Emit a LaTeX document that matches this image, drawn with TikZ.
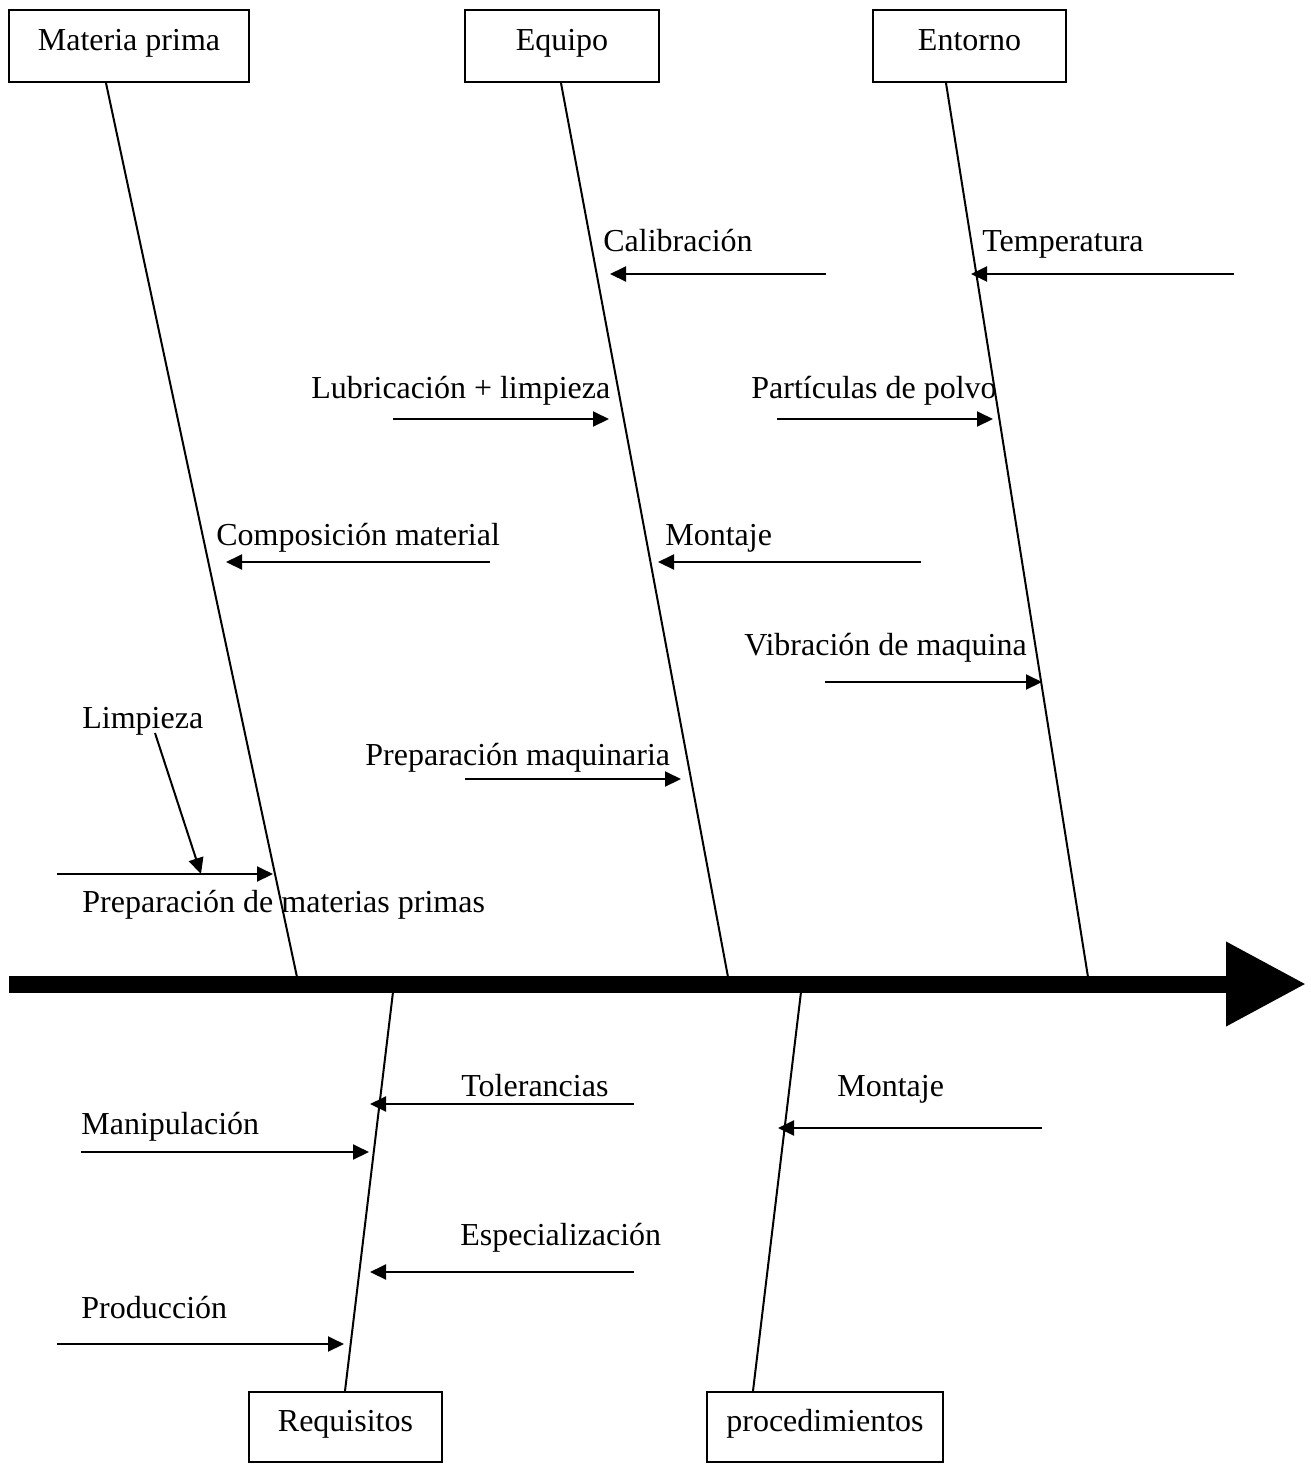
\documentclass[tikz,border=0pt]{standalone}
\usepackage{fontspec}
\setmainfont{Liberation Serif}
\usetikzlibrary{arrows.meta,positioning,calc}

\begin{document}
\begin{tikzpicture}[
  x=0.5pt, y=-0.5pt,
  font=\fontsize{16pt}{19pt}\selectfont,
  catbox/.style={draw,line width=1pt,inner sep=0pt,
                 text height=0.7em,text depth=0.25em},
  bone/.style={line width=1pt},
  cause/.style={line width=1pt,-{Triangle[length=8pt,width=7.5pt]}},
  lbl/.style={anchor=base west,inner sep=0pt}
]
\useasboundingbox (0,0) rectangle (1311,1464);

% category boxes
\node[catbox,minimum width=120pt,minimum height=36pt] (materia) at (129,46) {Materia prima};
\node[catbox,minimum width=97pt,minimum height=36pt] (equipo) at (562,46) {Equipo};
\node[catbox,minimum width=96.5pt,minimum height=36pt] (entorno) at (969.5,46) {Entorno};
\node[catbox,minimum width=96.5pt,minimum height=35pt] (requisitos) at (345.5,1427) {Requisitos};
\node[catbox,minimum width=118pt,minimum height=35pt] (procedim) at (825,1427) {procedimientos};

% spine
\coordinate (tail) at (9,984);
\coordinate (head) at (1306,984);
\draw[line width=8.5pt,-{Triangle[length=40pt,width=40pt]}] (tail) -- (head);

% bones
\coordinate (materiafoot) at (297,977);
\coordinate (equipofoot) at (728,977);
\coordinate (entornofoot) at (1088,977);
\coordinate (requisitosfoot) at (393,992);
\coordinate (procedimfoot) at (801,992);
\draw[bone] ($(materia.south)+(-23,0)$) -- (materiafoot);
\draw[bone] ($(equipo.south)+(-1,0)$) -- (equipofoot);
\draw[bone] ($(entorno.south)+(-23.5,0)$) -- (entornofoot);
\draw[bone] ($(requisitos.north)+(-0.5,0)$) -- (requisitosfoot);
\draw[bone] ($(procedim.north)+(-72,0)$) -- (procedimfoot);

% causes on Equipo
\node[lbl] (calib) at (603,251) {Calibración};
\draw[cause] (826,274) coordinate (calibS) -- (610,274) coordinate (calibE);
\node[lbl] (lubri) at (311,398) {Lubricación + limpieza};
\draw[cause] (393,419) coordinate (lubriS) -- (609,419) coordinate (lubriE);
\node[lbl] (montajeA) at (665,545) {Montaje};
\draw[cause] (921,562) coordinate (montajeAS) -- (658,562) coordinate (montajeAE);
\node[lbl] (prepmaq) at (365,765) {Preparación maquinaria};
\draw[cause] (465,779) coordinate (prepmaqS) -- (681,779) coordinate (prepmaqE);

% causes on Entorno
\node[lbl] (temp) at (982,251) {Temperatura};
\draw[cause] (1234,274) coordinate (tempS) -- (971,274) coordinate (tempE);
\node[lbl] (polvo) at (751,398) {Partículas de polvo};
\draw[cause] (777,419) coordinate (polvoS) -- (993,419) coordinate (polvoE);
\node[lbl] (vibra) at (744,655) {Vibración de maquina};
\draw[cause] (825,682) coordinate (vibraS) -- (1042,682) coordinate (vibraE);

% causes on Materia prima
\node[lbl] (compo) at (216,545) {Composición material};
\draw[cause] (490,562) coordinate (compoS) -- (226,562) coordinate (compoE);
\node[lbl] (limp) at (82,728) {Limpieza};
\node[lbl] (prepmat) at (82,912) {Preparación de materias primas};
\draw[cause] (57,874) coordinate (prepmatS) -- (273,874) coordinate (prepmatE);
\draw[cause] (155,733) coordinate (limpS) -- (201,874);

% causes on Requisitos
\node[lbl] (toler) at (461,1096) {Tolerancias};
\draw[cause] (634,1104) coordinate (tolerS) -- (370,1104) coordinate (tolerE);
\node[lbl] (manip) at (81,1134) {Manipulación};
\draw[cause] (81,1152) coordinate (manipS) -- (369,1152) coordinate (manipE);
\node[lbl] (espec) at (460,1245) {Especialización};
\draw[cause] (634,1272) coordinate (especS) -- (370,1272) coordinate (especE);
\node[lbl] (produc) at (81,1318) {Producción};
\draw[cause] (57,1344) coordinate (producS) -- (344,1344) coordinate (producE);

% causes on procedimientos
\node[lbl] (montajeB) at (837,1096) {Montaje};
\draw[cause] (1042,1128) coordinate (montajeBS) -- (778,1128) coordinate (montajeBE);
\end{tikzpicture}
\end{document}
